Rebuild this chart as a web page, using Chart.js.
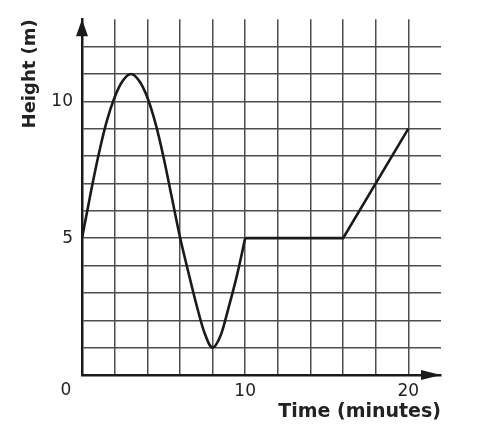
<!DOCTYPE html>
<html>
<head>
<meta charset="utf-8">
<script src="https://cdn.jsdelivr.net/npm/chart.js@4.4.1/dist/chart.umd.min.js"></script>
<style>
  html, body { margin: 0; padding: 0; background: #fff; }
  #wrap { width: 482px; height: 443px; }
</style>
</head>
<body>
<div id="wrap"><canvas id="chart"></canvas></div>
<script>
  // ─── Data ──────────────────────────────────────────
  const curveTime   = [0, 0.5,  1, 1.5,  2,     2.5,   3,  3.5,   4,     4.5, 5,    5.5, 6,    6.5, 7,   7.5,  8, 8.5,  9,   9.5,  10];
  const curveHeight = [5, 6.55, 8, 9.24, 10.15, 10.75, 11, 10.75, 10.15, 9.2, 7.95, 6.5, 5.05, 3.8, 2.6, 1.55, 1, 1.45, 2.5, 3.65, 5];
  const lineTime    = [10, 16, 20];
  const lineHeight  = [5, 5, 9];
  const xLabelValues = [10, 20];
  const yLabelValues = [5, 10];
  const originLabel = '0';

  const FONT = "'DejaVu Sans', sans-serif";
  const INK = '#1a1a1a';
  const GRID = '#4d4d4d';

  const toPoints = (xs, ys) => xs.map((x, i) => ({ x, y: ys[i] }));

  // arrowheads + corner "0"
  const axisDecor = {
    id: 'axisDecor',
    afterDraw(chart) {
      const { ctx, chartArea: a, scales: { x, y } } = chart;
      const x0 = x.getPixelForValue(0);
      const y0 = y.getPixelForValue(0);
      ctx.save();
      ctx.fillStyle = INK;
      ctx.beginPath();
      ctx.moveTo(x0, a.top);
      ctx.lineTo(x0 - 6, a.top + 17);
      ctx.lineTo(x0 + 6, a.top + 17);
      ctx.closePath();
      ctx.fill();
      ctx.beginPath();
      ctx.moveTo(a.right, y0);
      ctx.lineTo(a.right - 20, y0 - 5);
      ctx.lineTo(a.right - 20, y0 + 5);
      ctx.closePath();
      ctx.fill();
      ctx.font = `17px ${FONT}`;
      ctx.textAlign = 'center';
      ctx.textBaseline = 'middle';
      ctx.fillStyle = '#222';
      ctx.fillText(originLabel, x0 - 16, y0 + 16);
      ctx.restore();
    },
  };

  const hideLast = (max) => (c) => (c.tick && c.tick.value >= max ? 'rgba(0,0,0,0)' : GRID);

  new Chart(document.getElementById('chart'), {
    type: 'scatter',
    data: {
      datasets: [
        {
          data: toPoints(curveTime, curveHeight),
          showLine: true,
          borderColor: INK,
          borderWidth: 2.6,
          pointRadius: 0,
          cubicInterpolationMode: 'monotone',
        },
        {
          data: toPoints(lineTime, lineHeight),
          showLine: true,
          borderColor: INK,
          borderWidth: 2.6,
          pointRadius: 0,
          tension: 0,
        },
      ],
    },
    options: {
      responsive: true,
      maintainAspectRatio: false,
      animation: false,
      layout: { padding: { left: 0, top: 18, right: 41, bottom: 0 } },
      plugins: { legend: { display: false }, tooltip: { enabled: false } },
      scales: {
        x: {
          type: 'linear',
          min: 0,
          max: 22,
          afterFit: (s) => { s.height = 68; },
          grid: { color: hideLast(22), lineWidth: 1.5, drawTicks: false },
          border: { color: INK, width: 2.5 },
          ticks: {
            stepSize: 2,
            padding: 6,
            color: '#222',
            font: { family: FONT, size: 17 },
            autoSkip: false,
            maxRotation: 0,
            callback: (v) => (xLabelValues.includes(v) ? String(v) : ''),
          },
          title: {
            display: true,
            text: 'Time (minutes)',
            align: 'end',
            color: '#222',
            font: { family: FONT, size: 19, weight: 'bold' },
            padding: { top: 0, bottom: 20 },
          },
        },
        y: {
          min: 0,
          max: 13,
          afterFit: (s) => { s.width = 82; },
          grid: { color: hideLast(13), lineWidth: 1.5, drawTicks: false },
          border: { color: INK, width: 2.5 },
          ticks: {
            stepSize: 1,
            padding: 9,
            color: '#222',
            font: { family: FONT, size: 17 },
            autoSkip: false,
            callback: (v) => (yLabelValues.includes(v) ? String(v) : ''),
          },
          title: {
            display: true,
            text: 'Height (m)',
            align: 'end',
            color: '#222',
            font: { family: FONT, size: 18, weight: 'bold' },
            padding: { top: 20, bottom: 0 },
          },
        },
      },
    },
    plugins: [axisDecor],
  });
</script>
</body>
</html>
